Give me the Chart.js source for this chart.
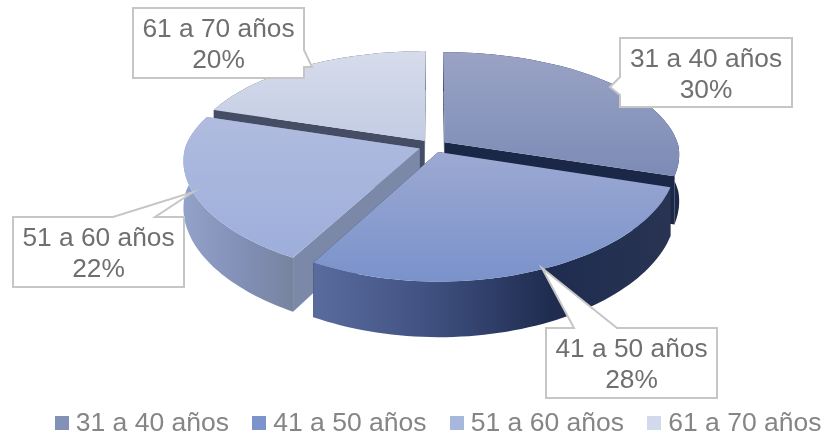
<!DOCTYPE html>
<html>
<head>
<meta charset="utf-8">
<style>
  html, body { margin: 0; padding: 0; background: #fff; }
  #wrap { width: 823px; height: 436px; }
</style>
</head>
<body>
<div id="wrap"><canvas id="pieChart"></canvas></div>
<script src="https://cdn.jsdelivr.net/npm/chart.js@4"></script>
<script>
// --- Data ---
const categories = ["31 a 40 años", "41 a 50 años", "51 a 60 años", "61 a 70 años"];
const shares = [30, 28, 22, 20];

// --- Colours ---
const legendColors = ["#8390B8", "#7D93CB", "#A8B7DE", "#D2D9EC"];
const topColors = [
  ["#9AA3C5", "#7C8BB6"],
  ["#9CA9D2", "#7A92CB"],
  ["#B0BCDF", "#9DAEDB"],
  ["#D6DCEB", "#C3CCE4"]
];
const faceColors = ["#1B2747", "#1E2A4C", "#7C88A8", "#454D65"];
const wallStops = [
  ["#1C2848", "#1C2848"],
  ["#5A6C9E", "#3F5080", "#1F2C50", "#293452"],
  ["#93A2C9", "#8390B8", "#77849F"],
  ["#454D65", "#454D65"]
];

// --- Fake 3D projection of the pie ---
const PIE_X = 433, PIE_Y = 146;
const RADIUS_X = 234, RADIUS_Y = 106, PERSPECTIVE = 0.164, DEPTH = 46;

function project(u, v, down) {
  const s = 1 / (1 + PERSPECTIVE * v);
  // the original narrows sideways less than it grows in height towards the front
  const sx = 1 / (1 + (v < 0 ? 0.11 : 0.15) * v);
  return [PIE_X + RADIUS_X * u * sx, PIE_Y - RADIUS_Y * v * s + DEPTH * down * s];
}

function tracePath(ctx, pts) {
  ctx.beginPath();
  pts.forEach((p, i) => (i ? ctx.lineTo(p[0], p[1]) : ctx.moveTo(p[0], p[1])));
  ctx.closePath();
}

// outline of one slice taken from the arc element chart.js laid out
function sliceOutline(arc) {
  const mid = (arc.startAngle + arc.endAngle) / 2;
  const e = arc.options.offset / arc.outerRadius;
  const ox = e * Math.cos(mid), oy = e * Math.sin(mid);
  const rim = [];
  const steps = 60;
  for (let i = 0; i <= steps; i++) {
    const t = arc.startAngle + (arc.endAngle - arc.startAngle) * i / steps;
    rim.push([ox + Math.cos(t), -(oy + Math.sin(t))]);
  }
  return { apex: [ox, -oy], rim };
}

const pie3d = {
  id: "pie3d",
  afterLayout(chart) {
    // legend sits where the original has it, right is pushed out so the row does not wrap
    chart.legend.left = 31.5;
    chart.legend.right = 900;
    chart.legend.top = 380;
  },
  beforeDatasetDraw(chart, args) {
    const ctx = chart.ctx;
    const arcs = args.meta.data;
    // paint back to front
    const order = [3, 0, 2, 1];
    order.forEach(i => {
      const { apex, rim } = sliceOutline(arcs[i]);
      const first = rim[0], last = rim[rim.length - 1];

      ctx.fillStyle = faceColors[i];
      [first, last].forEach(p => {
        tracePath(ctx, [
          project(apex[0], apex[1], 0), project(p[0], p[1], 0),
          project(p[0], p[1], 1), project(apex[0], apex[1], 1)
        ]);
        ctx.fill();
      });

      const topEdge = rim.map(p => project(p[0], p[1], 0));
      const lowEdge = rim.map(p => project(p[0], p[1], 1)).reverse();
      const xs = topEdge.map(p => p[0]);
      const wall = ctx.createLinearGradient(Math.min(...xs), 0, Math.max(...xs), 0);
      wallStops[i].forEach((c, k) => wall.addColorStop(k / (wallStops[i].length - 1), c));
      ctx.fillStyle = wall;
      tracePath(ctx, topEdge.concat(lowEdge));
      ctx.fill();

      const face = [project(apex[0], apex[1], 0)].concat(topEdge);
      const ys = face.map(p => p[1]);
      const top = ctx.createLinearGradient(0, Math.min(...ys), 0, Math.max(...ys));
      top.addColorStop(0, topColors[i][0]);
      top.addColorStop(1, topColors[i][1]);
      ctx.fillStyle = top;
      tracePath(ctx, face);
      ctx.fill();
    });
    return false; // flat arcs are replaced by the drawing above
  }
};

// --- Callouts ---
const callouts = [
  { cx: 706, lines: [67, 98], path: [[620, 38], [792, 38], [792, 107], [620, 107], [620, 95], [610, 87], [620, 77]] },
  { cx: 631.5, lines: [357, 388], path: [[546, 328], [574, 328], [542, 268], [617, 328], [717, 328], [717, 398], [546, 398]] },
  { cx: 98.5, lines: [246, 277], path: [[13, 217], [113, 217], [193, 192], [155, 217], [184, 217], [184, 287], [13, 287]] },
  { cx: 218.5, lines: [37, 68], path: [[133, 8], [304, 8], [304, 50], [312, 67], [304, 67], [304, 78], [133, 78]] }
];

const calloutLabels = {
  id: "calloutLabels",
  afterDatasetsDraw(chart) {
    const ctx = chart.ctx;
    callouts.forEach((c, i) => {
      tracePath(ctx, c.path);
      ctx.fillStyle = "#fff";
      ctx.fill();
      ctx.lineWidth = 2;
      ctx.strokeStyle = "#C6C6C6";
      ctx.stroke();
      ctx.fillStyle = "#6F6F6F";
      ctx.font = '26.3px "Liberation Sans"';
      ctx.textAlign = "center";
      ctx.textBaseline = "alphabetic";
      ctx.fillText(chart.data.labels[i], c.cx, c.lines[0]);
      ctx.fillText(chart.data.datasets[0].data[i] + "%", c.cx, c.lines[1]);
    });
  }
};

// small square used as legend marker, the text gap is tighter than chart.js allows
function legendSwatch(color) {
  const c = document.createElement("canvas");
  c.width = 14;
  c.height = 14;
  const g = c.getContext("2d");
  g.fillStyle = color;
  g.fillRect(0, 0, 14, 14);
  return c;
}

// --- Chart.js setup ---
const chart = new Chart(document.getElementById("pieChart"), {
  type: "pie",
  data: {
    labels: categories,
    datasets: [{
      data: shares,
      backgroundColor: legendColors,
      borderWidth: 0,
      offset: 11
    }]
  },
  options: {
    responsive: true,
    maintainAspectRatio: false,
    animation: false,
    layout: { padding: 0 },
    plugins: {
      tooltip: { enabled: false },
      legend: {
        position: "bottom",
        align: "start",
        labels: {
          usePointStyle: true,
          boxWidth: 1,
          padding: 30,
          color: "#858585",
          font: { family: '"Liberation Sans"', size: 26.5 },
          generateLabels: c => Chart.overrides.pie.plugins.legend.labels.generateLabels(c)
            .map(item => ({ ...item, pointStyle: legendSwatch(item.fillStyle) }))
        }
      }
    }
  },
  plugins: [pie3d, calloutLabels]
});
</script>
</body>
</html>
